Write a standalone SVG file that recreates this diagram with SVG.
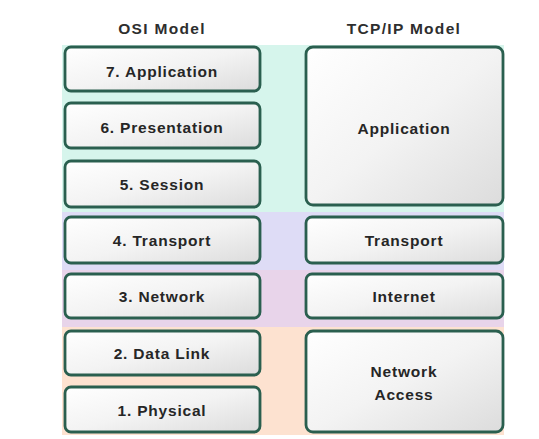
<svg xmlns="http://www.w3.org/2000/svg" width="539" height="439" viewBox="0 0 539 439">
<defs>
<linearGradient id="boxg" x1="0" y1="0" x2="1" y2="1">
<stop offset="0" stop-color="#ffffff"/>
<stop offset="0.5" stop-color="#f3f3f3"/>
<stop offset="1" stop-color="#dcdcdc"/>
</linearGradient>
<style>
.box{fill:url(#boxg);stroke:#2a5f4f;stroke-width:2.8}
.lbl{font-family:"Liberation Sans",Arial,sans-serif;font-weight:bold;font-size:15.5px;fill:#262626;text-anchor:middle;dominant-baseline:central;letter-spacing:0.8px}
.hdr{font-family:"Liberation Sans",Arial,sans-serif;font-weight:bold;font-size:15.5px;fill:#2e2e2e;text-anchor:middle;dominant-baseline:central;letter-spacing:1.3px}
</style>
</defs>
<rect width="539" height="439" fill="#ffffff"/>
<g id="bands">
<rect x="62" y="45" width="442" height="167" fill="#d6f5ec"/>
<rect x="62" y="212" width="442" height="58" fill="#dedcf6"/>
<rect x="62" y="270" width="442" height="57" fill="#e8d4ea"/>
<rect x="62" y="327" width="442" height="108" fill="#fde2d0"/>
</g>
<text class="hdr" x="162" y="28">OSI Model</text>
<text class="hdr" x="404" y="28">TCP/IP Model</text>
<g id="connectors"></g>
<g id="osi7"><rect class="box" x="65" y="47" width="195" height="44" rx="6"/><text class="lbl" x="162" y="71">7. Application</text></g>
<g id="osi6"><rect class="box" x="65" y="103" width="195" height="45" rx="6"/><text class="lbl" x="162" y="127">6. Presentation</text></g>
<g id="osi5"><rect class="box" x="65" y="161" width="195" height="46" rx="6"/><text class="lbl" x="162" y="184">5. Session</text></g>
<g id="osi4"><rect class="box" x="65" y="217" width="195" height="46" rx="6"/><text class="lbl" x="162" y="240">4. Transport</text></g>
<g id="osi3"><rect class="box" x="65" y="274" width="195" height="44" rx="6"/><text class="lbl" x="162" y="296">3. Network</text></g>
<g id="osi2"><rect class="box" x="65" y="331" width="195" height="44" rx="6"/><text class="lbl" x="162" y="353">2. Data Link</text></g>
<g id="osi1"><rect class="box" x="65" y="387" width="195" height="45" rx="6"/><text class="lbl" x="162" y="410">1. Physical</text></g>
<g id="tcp-app"><rect class="box" x="306" y="47" width="197" height="158" rx="7"/><text class="lbl" x="404" y="128">Application</text></g>
<g id="tcp-transport"><rect class="box" x="306" y="217" width="197" height="46" rx="6"/><text class="lbl" x="404" y="240">Transport</text></g>
<g id="tcp-internet"><rect class="box" x="306" y="274" width="197" height="44" rx="6"/><text class="lbl" x="404" y="296">Internet</text></g>
<g id="tcp-netaccess"><rect class="box" x="306" y="331" width="197" height="101" rx="7"/><text class="lbl" x="404" y="371">Network</text><text class="lbl" x="404" y="394">Access</text></g>
</svg>
